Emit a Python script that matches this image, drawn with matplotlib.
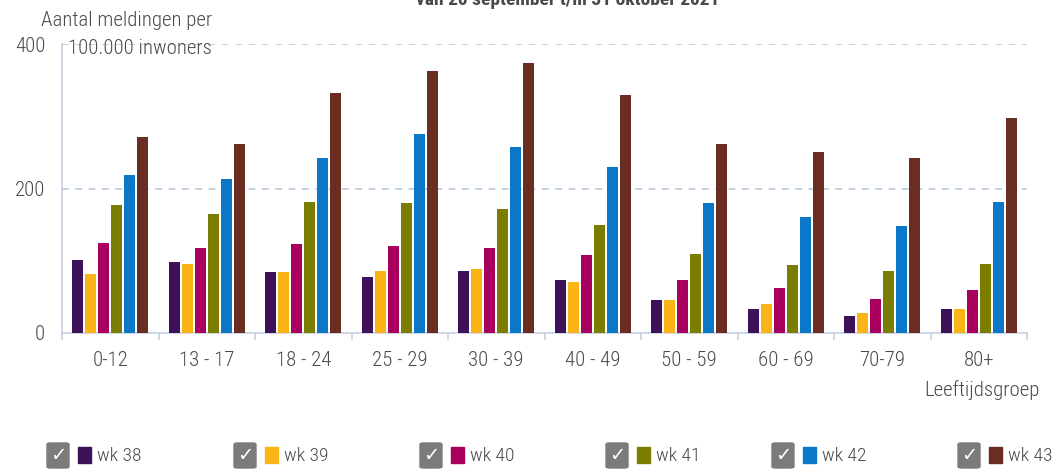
import matplotlib
matplotlib.use("Agg")
import matplotlib.pyplot as plt
from matplotlib.patches import FancyBboxPatch, Rectangle
import numpy as np

# data
groepen = ["0-12", "13 - 17", "18 - 24", "25 - 29", "30 - 39",
           "40 - 49", "50 - 59", "60 - 69", "70-79", "80+"]
weken = ["wk 38", "wk 39", "wk 40", "wk 41", "wk 42", "wk 43"]
wk38 = [101, 98, 84, 78, 86, 74, 45, 33, 23, 33]
wk39 = [81, 95, 84, 86, 88, 71, 46, 40, 27, 33]
wk40 = [125, 118, 123, 120, 118, 108, 74, 62, 47, 60]
wk41 = [177, 165, 182, 180, 172, 150, 110, 94, 86, 95]
wk42 = [218, 213, 242, 276, 257, 230, 180, 160, 148, 182]
wk43 = [271, 261, 332, 362, 374, 329, 261, 251, 242, 297]
kleuren = ["#3e1258", "#fbb416", "#a9005e", "#7b7d00", "#0a78c6", "#6a2d22"]

plt.rcParams["font.family"] = ["Roboto Condensed", "Open Sans Condensed",
                               "Roboto", "DejaVu Sans"]
plt.rcParams["font.weight"] = "light"
tekstkleur = "#4a4a4a"

W, H = 1053, 472
fig = plt.figure(figsize=(W / 100, H / 100), dpi=100)
ax = fig.add_axes([62 / W, 139 / H, 965 / W, (333 - 44) / H])

reeksen = [wk38, wk39, wk40, wk41, wk42, wk43]
x = np.arange(len(groepen))
stap, breedte = 0.134, 0.115
for k, (waarden, kleur) in enumerate(zip(reeksen, kleuren)):
    ax.bar(x + (k - 2.5) * stap, waarden, breedte, color=kleur, zorder=3)

ax.set_xlim(-0.5, len(groepen) - 0.5)
ax.set_ylim(0, 400)
ax.set_yticks([0, 200, 400])
ax.set_xticks(x)
ax.set_xticklabels(groepen)
ax.set_xticks(np.arange(len(groepen) + 1) - 0.5, minor=True)
ax.tick_params(axis="x", which="major", length=0, pad=13, labelsize=15, labelcolor=tekstkleur)
ax.tick_params(axis="x", which="minor", length=5, width=1.2, color="#c5d1e3")
ax.tick_params(axis="y", length=0, pad=12, labelsize=15, labelcolor=tekstkleur)

for y in [200, 400]:
    ax.axhline(y, color="#b7c8de", lw=1.2, ls=(0, (4, 4)), zorder=1)
for s in ["top", "right"]:
    ax.spines[s].set_visible(False)
for s in ["left", "bottom"]:
    ax.spines[s].set_color("#c5d1e3")
    ax.spines[s].set_linewidth(1.2)

fig.text(212 / W, 1 - 20 / H, "Aantal meldingen per", ha="right", va="center",
         fontsize=15, color=tekstkleur)
fig.text(212 / W, 1 - 48 / H, "100.000 inwoners", ha="right", va="center",
         fontsize=15, color=tekstkleur)
fig.text(1040 / W, 1 - 390 / H, "Leeftijdsgroep", ha="right", va="center",
         fontsize=15, color=tekstkleur)
fig.text(568 / W, 1 - 5 / H, "van 20 september t/m 31 oktober 2021", ha="center",
         va="baseline", fontsize=14, fontweight="bold", color=tekstkleur)

# legenda met vinkjes
vak_x = [47, 234, 420, 606, 772, 958]
for i, (naam, kleur) in enumerate(zip(weken, kleuren)):
    bx = vak_x[i]
    fig.patches.append(FancyBboxPatch((bx / W, 1 - 468 / H), 22 / W, 25 / H,
                                      boxstyle="round,pad=0,rounding_size=0.003",
                                      transform=fig.transFigure, color="#7b7b7b"))
    fig.text((bx + 11) / W, 1 - 455.5 / H, "\u2713", ha="center", va="center",
             fontsize=14, fontweight="bold", color="white", family="DejaVu Sans")
    fig.patches.append(Rectangle(((bx + 31) / W, 1 - 463 / H), 13 / W, 16 / H,
                                 transform=fig.transFigure, color=kleur))
    fig.text((bx + 50) / W, 1 - 456 / H, naam, ha="left", va="center",
             fontsize=14, color=tekstkleur)

fig.savefig("out.png", dpi=100)
